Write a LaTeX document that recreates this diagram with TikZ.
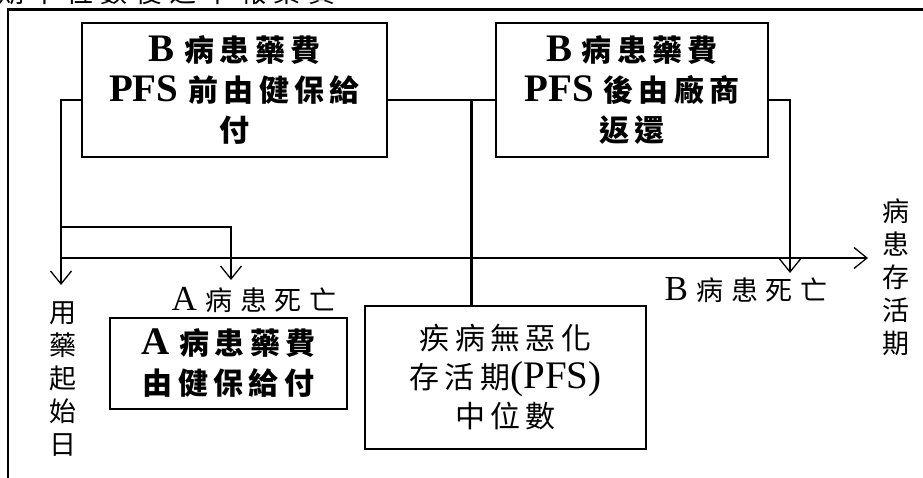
\documentclass[tikz,border=0pt]{standalone}
\usepackage{fontspec}
\setmainfont{Liberation Serif}[Scale=1.3]
\newfontfamily\cjkplain{Noto Sans CJK TC}
\newfontfamily\cjkbox[LetterSpace=18]{Noto Sans CJK TC}
\newfontfamily\cjklbl[LetterSpace=28]{Noto Sans CJK TC}
\usetikzlibrary{arrows.meta}
\newcommand\CB[1]{{\cjkbox #1}}
\newcommand\CL[1]{{\cjklbl #1}}
\tikzset{
  box/.style={draw, line width=1.1pt, align=center, inner sep=0pt,
    font=\fontsize{30}{40}\selectfont\bfseries},
  pfsbox/.style={draw, line width=1.1pt, align=center, inner sep=0pt,
    font=\fontsize{30}{39}\selectfont},
  lbl/.style={inner sep=0pt, align=center, font=\fontsize{27}{27}\selectfont},
  vlbl/.style={inner sep=0pt, align=center, font=\fontsize{27}{33}\selectfont\cjkplain},
  conn/.style={line width=1.3pt},
  arr/.style={conn, -{Straight Barb[length=13pt,width=21pt,line width=1.3pt]}},
  heavy/.style={line width=3pt},
  frame/.style={line width=2.6pt}
}
\begin{document}
\begin{tikzpicture}[x=1pt,y=-1pt]
\useasboundingbox (0,0) rectangle (923,478);
% cut-off heading (only its lower edge shows, as in the reference)
\node[lbl, anchor=base west] (title) at (-3,3) {\CL{期中位數後之申報藥費}};
% frame
\draw[frame] (8,478) -- (8,9.5) -- (923,9.5);
% boxes
\node[box, minimum width=305pt, minimum height=134pt] (box1) at (234.5,90)
  {B \CB{病患藥費}\\PFS \CB{前由健保給}\\\CB{付}};
\node[box, minimum width=272pt, minimum height=134pt] (box2) at (632,90)
  {B \CB{病患藥費}\\PFS \CB{後由廠商}\\\CB{返還}};
\node[box, minimum width=237pt, minimum height=91pt] (boxA) at (228.5,363.5)
  {A \CB{病患藥費}\\\CB{由健保給付}};
\node[pfsbox, minimum width=281pt, minimum height=143pt] (pfs) at (505.5,377.5)
  {\CB{疾病無惡化}\\\CB{存活期}(PFS)\\\CB{中位數}};
% labels
\node[vlbl] (startlbl) at (63,379) {用\\藥\\起\\始\\日};
\node[vlbl] (survlbl) at (896,277) {病\\患\\存\\活\\期};
\node[lbl] (deadA) at (254,300) {A \CL{病患死亡}};
\node[lbl] (deadB) at (746,290) {B \CL{病患死亡}};
% coordinates
\coordinate (tipStart) at (61,285);
\coordinate (brA) at (61,227);
\coordinate (tipA) at (231,280);
\coordinate (ax0) at (61,258);
\coordinate (ax1) at (868,258);
\coordinate (tipB) at (790,273);
\coordinate (pfsTop) at (471,100);
% connectors
\draw[arr] ([yshift=-10pt]box1.west) -| (tipStart);
\draw[arr] (brA) -| (tipA);
\draw[arr] (ax0) -- (ax1);
\draw[conn] ([yshift=-10pt]box1.east) -- ([yshift=-10pt]box2.west);
\draw[arr] ([yshift=-10pt]box2.east) -| (tipB);
\draw[heavy] (pfsTop) -- (pfs.north -| pfsTop);
\end{tikzpicture}
\end{document}
